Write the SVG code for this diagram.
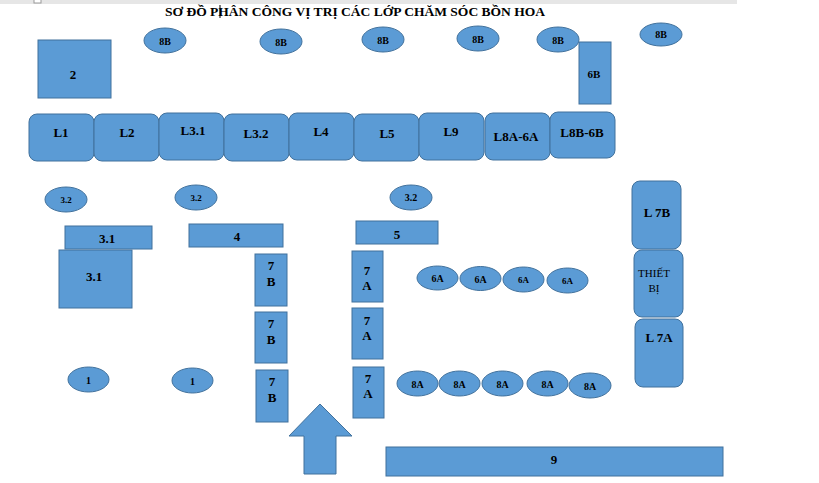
<svg xmlns="http://www.w3.org/2000/svg" width="819" height="483" viewBox="0 0 819 483">
<style>
.s{fill:#5B9BD5;stroke:#41719C;stroke-width:1}
text{font-family:"Liberation Serif","Times New Roman",serif;fill:#000;text-anchor:middle}
.b{font-weight:bold;font-size:13px}
.m{font-weight:bold;font-size:9px}
.n{font-weight:bold;font-size:10px}
.t{font-size:11px}
</style>
<rect x="0" y="0" width="737" height="4" fill="#E6E6E6"/>
<rect x="34" y="-1" width="7" height="4" fill="#FFFFFF" stroke="#9A9A9A" stroke-width="1"/>
<g id="title">
<text x="355" y="16" class="b" textLength="380" lengthAdjust="spacingAndGlyphs">SƠ ĐỒ PHÂN CÔNG VỊ TRỊ CÁC LỚP CHĂM SÓC BỒN HOA</text>
<line x1="220" y1="5" x2="220" y2="18" stroke="#000" stroke-width="1"/>
</g>
<g id="n2"><rect class="s" x="38" y="40" width="73" height="58"/><text class="b" x="73" y="79">2</text></g>
<g id="e8b1"><ellipse class="s" cx="165" cy="40.5" rx="21" ry="12.5"/><text class="n" x="165" y="44.5">8B</text></g>
<g id="e8b2"><ellipse class="s" cx="281" cy="41.5" rx="21" ry="12.5"/><text class="n" x="281" y="45.5">8B</text></g>
<g id="e8b3"><ellipse class="s" cx="383" cy="39.5" rx="21" ry="12.5"/><text class="n" x="383" y="43.5">8B</text></g>
<g id="e8b4"><ellipse class="s" cx="478" cy="38.5" rx="21" ry="12.5"/><text class="n" x="478" y="42.5">8B</text></g>
<g id="e8b5"><ellipse class="s" cx="558" cy="39.5" rx="21" ry="12.5"/><text class="n" x="558" y="43.5">8B</text></g>
<g id="e8b6"><ellipse class="s" cx="661" cy="34.5" rx="21" ry="11.5"/><text class="n" x="661" y="38">8B</text></g>
<g id="n6b"><rect class="s" x="579" y="42" width="32" height="62"/><text class="m" x="594" y="78" style="font-size:11px">6B</text></g>
<g id="L1"><rect class="s" x="29" y="114" width="65" height="47" rx="8"/><text class="b" x="61" y="137">L1</text></g>
<g id="L2"><rect class="s" x="94" y="114" width="65" height="47" rx="8"/><text class="b" x="127" y="137">L2</text></g>
<g id="L31"><rect class="s" x="159" y="113" width="65" height="47" rx="8"/><text class="b" x="193" y="135">L3.1</text></g>
<g id="L32"><rect class="s" x="224" y="114" width="65" height="47" rx="8"/><text class="b" x="256" y="138">L3.2</text></g>
<g id="L4"><rect class="s" x="289" y="113" width="65" height="47" rx="8"/><text class="b" x="321" y="136">L4</text></g>
<g id="L5"><rect class="s" x="354" y="114" width="65" height="47" rx="8"/><text class="b" x="387" y="138">L5</text></g>
<g id="L9"><rect class="s" x="419" y="113" width="65" height="47" rx="8"/><text class="b" x="451" y="136">L9</text></g>
<g id="L8A6A"><rect class="s" x="485" y="113" width="65" height="47" rx="8"/><text class="b" x="516" y="141">L8A-6A</text></g>
<g id="L8B6B"><rect class="s" x="550" y="112" width="65" height="46" rx="8"/><text class="b" x="582" y="137">L8B-6B</text></g>
<g id="e32a"><ellipse class="s" cx="66" cy="199.5" rx="21" ry="12.5"/><text class="m" x="66" y="203">3.2</text></g>
<g id="e32b"><ellipse class="s" cx="196" cy="197.5" rx="21" ry="12.5"/><text class="m" x="196" y="201">3.2</text></g>
<g id="e32c"><ellipse class="s" cx="411" cy="197.5" rx="21" ry="12.5"/><text class="n" x="411" y="201">3.2</text></g>
<g id="n31a"><rect class="s" x="65" y="226" width="87" height="23"/><text class="b" x="107" y="243">3.1</text></g>
<g id="n31b"><rect class="s" x="59" y="250" width="73" height="58"/><text class="b" x="94" y="281">3.1</text></g>
<g id="n4"><rect class="s" x="189" y="224" width="94" height="23"/><text class="b" x="237" y="241">4</text></g>
<g id="n5"><rect class="s" x="356" y="221" width="82" height="23"/><text class="b" x="397" y="239">5</text></g>
<g id="n7b1"><rect class="s" x="255" y="254" width="32" height="52"/><text class="b" x="271" y="270">7</text><text class="b" x="271" y="286">B</text></g>
<g id="n7b2"><rect class="s" x="255" y="312" width="32" height="51"/><text class="b" x="271" y="328">7</text><text class="b" x="271" y="344">B</text></g>
<g id="n7b3"><rect class="s" x="256" y="370" width="32" height="52"/><text class="b" x="272" y="386">7</text><text class="b" x="272" y="402">B</text></g>
<g id="n7a1"><rect class="s" x="352" y="251" width="31" height="51"/><text class="b" x="367" y="275">7</text><text class="b" x="367" y="290">A</text></g>
<g id="n7a2"><rect class="s" x="352" y="308" width="31" height="51"/><text class="b" x="367" y="325">7</text><text class="b" x="367" y="340">A</text></g>
<g id="n7a3"><rect class="s" x="353" y="367" width="31" height="51"/><text class="b" x="368" y="383">7</text><text class="b" x="368" y="398">A</text></g>
<g id="e6a1"><ellipse class="s" cx="437.5" cy="278" rx="20.5" ry="12"/><text class="n" x="437.5" y="282">6A</text></g>
<g id="e6a2"><ellipse class="s" cx="480.5" cy="278.5" rx="20.5" ry="12"/><text class="n" x="480.5" y="282.5">6A</text></g>
<g id="e6a3"><ellipse class="s" cx="523.5" cy="279.5" rx="20.5" ry="12.5"/><text class="m" x="523.5" y="283">6A</text></g>
<g id="e6a4"><ellipse class="s" cx="567.5" cy="280.5" rx="20.5" ry="12.5"/><text class="m" x="567.5" y="284">6A</text></g>
<g id="L7B"><rect class="s" x="632" y="181" width="49" height="68" rx="8"/><text class="b" x="657" y="217">L 7B</text></g>
<g id="thietbi"><rect class="s" x="634" y="250" width="49" height="67" rx="8"/><text class="t" x="654" y="277">THIẾT</text><text class="t" x="654" y="292">BỊ</text></g>
<g id="L7A"><rect class="s" x="635" y="319" width="48" height="68" rx="8"/><text class="b" x="659" y="342">L 7A</text></g>
<g id="e1a"><ellipse class="s" cx="88.5" cy="379.5" rx="20.5" ry="12.5"/><text class="n" x="88.5" y="383.5">1</text></g>
<g id="e1b"><ellipse class="s" cx="192.5" cy="380.5" rx="20.5" ry="12.5"/><text class="n" x="192.5" y="384.5">1</text></g>
<g id="e8a1"><ellipse class="s" cx="417.5" cy="383.5" rx="20.5" ry="12.5"/><text class="n" x="417.5" y="387.5">8A</text></g>
<g id="e8a2"><ellipse class="s" cx="459.5" cy="383.5" rx="20.5" ry="12.5"/><text class="n" x="459.5" y="387.5">8A</text></g>
<g id="e8a3"><ellipse class="s" cx="502.5" cy="383.5" rx="20.5" ry="12.5"/><text class="n" x="502.5" y="387.5">8A</text></g>
<g id="e8a4"><ellipse class="s" cx="547.5" cy="383.5" rx="20.5" ry="12.5"/><text class="n" x="547.5" y="387.5">8A</text></g>
<g id="e8a5"><ellipse class="s" cx="590" cy="385.5" rx="21" ry="12.5"/><text class="n" x="590" y="389.5">8A</text></g>
<g id="n9"><rect class="s" x="386" y="447" width="337" height="29"/><text class="b" x="554" y="464">9</text></g>
<g id="connectors">
<polygon class="s" points="320,404 352,436 336,436 336,474 304,474 304,436 289,436"/>
</g>
</svg>
